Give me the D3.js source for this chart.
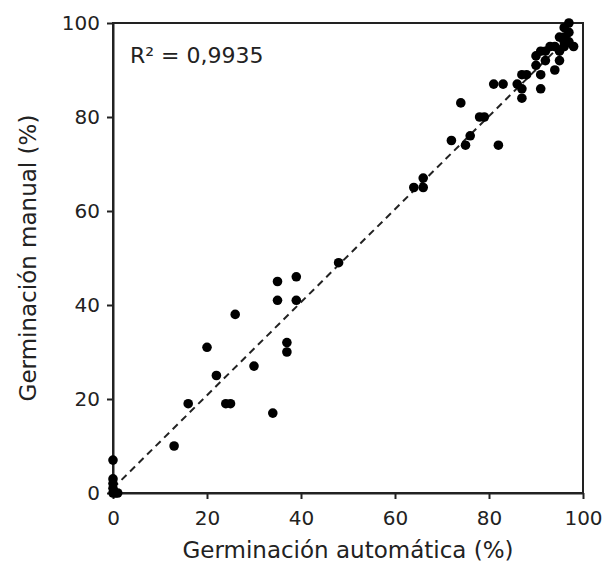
<!DOCTYPE html>
<html>
<head>
<meta charset="utf-8">
<script src="https://cdn.jsdelivr.net/npm/d3@7"></script>
<style>
  body { margin: 0; background: #fff; }
  text { font-family: "DejaVu Sans", Verdana, sans-serif; fill: #222; }
</style>
</head>
<body>
<div class="chart"></div>
<script>
// automatic vs manual germination (%)
const autoGerm = [0, 0, 0, 0, 0.5, 1, 0, 13, 16, 22, 20, 24, 25, 26, 30, 34, 35, 35, 39, 39, 37, 37, 48,
  64, 66, 66, 72, 74, 75, 76, 78, 79, 82, 81, 83, 86, 87, 87, 87, 88, 91, 91, 90, 91, 90, 92, 94, 95,
  93, 94, 96, 98, 95, 96, 96, 97, 96, 97, 92, 95, 97];
const manualGerm = [0, 1, 2, 3, 0, 0, 7, 10, 19, 25, 31, 19, 19, 38, 27, 17, 45, 41, 46, 41, 32, 30, 49,
  65, 65, 67, 75, 83, 74, 76, 80, 80, 74, 87, 87, 87, 86, 84, 89, 89, 89, 86, 91, 94, 93, 92, 90, 92,
  95, 95, 95, 95, 97, 97, 99, 100, 96, 98, 94, 94, 96];
const trendX = [0, 98];
const trendY = [1, 98];
const ticks = [0, 20, 40, 60, 80, 100];
const r2Label = 'R² = 0,9935';

const margin = {top: 23, right: 23, bottom: 73, left: 113};
const width = 606 - margin.left - margin.right;
const height = 566 - margin.top - margin.bottom;

let svg = d3.select('.chart')
    .append('svg')
        .attr('width', 606)
        .attr('height', 566)
    .append('g')
    .attr('transform', `translate(${margin.left}, ${margin.top})`);

let xScale = d3.scaleLinear().domain([0, 100]).range([0, width]);
let yScale = d3.scaleLinear().domain([0, 100]).range([height, 0]);

// frame
svg.append('rect')
    .attr('width', width)
    .attr('height', height)
    .style('fill', 'none')
    .style('stroke', '#222')
    .style('stroke-width', 2);

let xAxis = d3.axisBottom(xScale)
    .tickValues(ticks)
    .tickSizeInner(6)
    .tickSizeOuter(0)
    .tickPadding(12);
let gx = svg.append('g')
    .attr('transform', `translate(0, ${height})`)
    .call(xAxis);

let yAxis = d3.axisLeft(yScale)
    .tickValues(ticks)
    .tickSizeInner(6)
    .tickSizeOuter(0)
    .tickPadding(7);
let gy = svg.append('g').call(yAxis);

[gx, gy].forEach(g => {
  g.select('.domain').style('stroke', '#222').style('stroke-width', 2);
  g.selectAll('.tick line').style('stroke', '#222').style('stroke-width', 2);
  g.selectAll('.tick text')
      .style('font-size', '20px')
      .style('font-family', '"DejaVu Sans", Verdana, sans-serif')
      .style('fill', '#222');
});

// trend line
svg.append('line')
    .attr('x1', xScale(trendX[0]))
    .attr('y1', yScale(trendY[0]))
    .attr('x2', xScale(trendX[1]))
    .attr('y2', yScale(trendY[1]))
    .style('stroke', '#222')
    .style('stroke-width', 2)
    .style('stroke-dasharray', '7,5');

svg.selectAll('circle')
    .data(autoGerm.map((d, i) => [d, manualGerm[i]]))
    .enter()
    .append('circle')
        .attr('cx', d => xScale(d[0]))
        .attr('cy', d => yScale(d[1]))
        .attr('r', 4.8)
        .style('fill', '#000');

svg.append('text')
    .attr('x', 17)
    .attr('y', 40)
    .style('font-size', '22px')
    .text(r2Label);

svg.append('text')
    .attr('x', width / 2)
    .attr('y', height + 65)
    .attr('text-anchor', 'middle')
    .style('font-size', '23px')
    .text('Germinación automática (%)');

svg.append('text')
    .attr('transform', `translate(-77, ${height / 2}) rotate(-90)`)
    .attr('text-anchor', 'middle')
    .style('font-size', '23px')
    .text('Germinación manual (%)');
</script>
</body>
</html>
